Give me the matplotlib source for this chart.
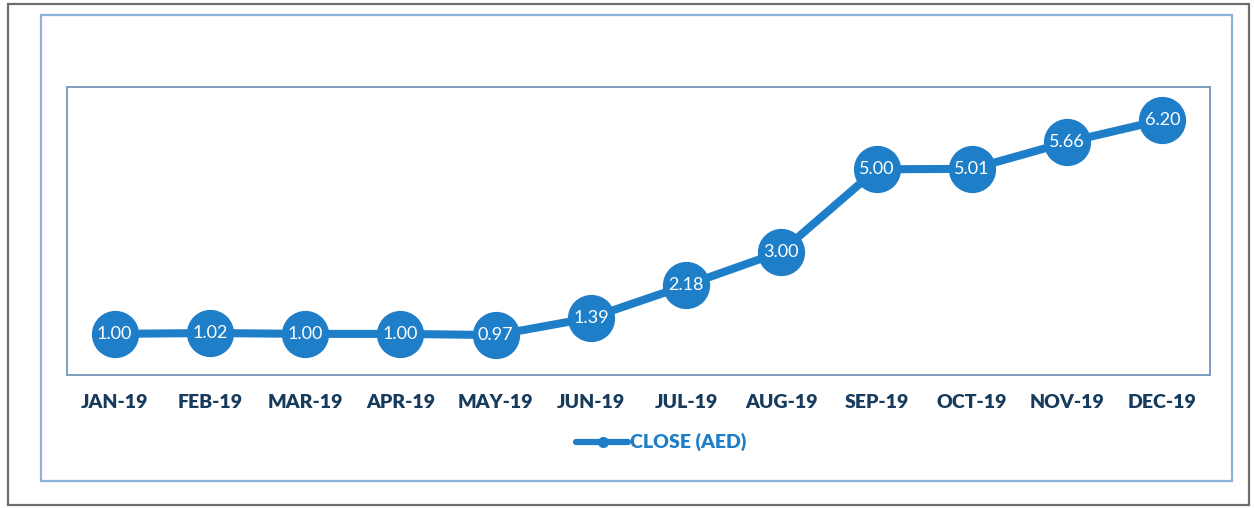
import matplotlib
matplotlib.use("Agg")
import matplotlib.pyplot as plt
from matplotlib.patches import Rectangle

months = ["JAN-19", "FEB-19", "MAR-19", "APR-19", "MAY-19", "JUN-19",
          "JUL-19", "AUG-19", "SEP-19", "OCT-19", "NOV-19", "DEC-19"]
close_aed = [1.00, 1.02, 1.00, 1.00, 0.97, 1.39, 2.18, 3.00, 5.00, 5.01, 5.66, 6.20]
series_name = "CLOSE (AED)"

W, H = 1254, 508
fig = plt.figure(figsize=(W / 100, H / 100), dpi=100)
fig.patch.set_facecolor("white")

def fr(x0, y0, x1, y1):
    return (x0 / W, 1 - y1 / H, (x1 - x0) / W, (y1 - y0) / H)

# decorative frames
x0, y0, w, h = fr(8, 4, 1249, 505)
fig.patches.append(Rectangle((x0, y0), w, h, transform=fig.transFigure,
                             fill=False, edgecolor="#6e6e6e", linewidth=1.6))
x0, y0, w, h = fr(41, 15, 1232, 481)
fig.patches.append(Rectangle((x0, y0), w, h, transform=fig.transFigure,
                             fill=False, edgecolor="#8db3dc", linewidth=1.6))

ax = fig.add_axes(fr(67, 87, 1210, 375))
color = "#1e7ec8"
xs = list(range(len(months)))
line, = ax.plot(xs, close_aed, color=color, linewidth=5.8, marker="o",
                markersize=33, markerfacecolor=color, markeredgecolor=color,
                solid_capstyle="round", label=series_name, zorder=3)
for x, v in zip(xs, close_aed):
    ax.text(x, v, f"{v:.2f}", ha="center", va="center", color="white",
            fontsize=13, family="Lato", zorder=4)

ax.set_xlim(-0.5, len(months) - 0.5)
ax.set_ylim(0, 7)
ax.set_yticks([])
ax.set_xticks(xs)
ax.set_xticklabels(months, fontsize=14, fontweight="heavy", family="Lato",
                   color="#173b5c")
ax.tick_params(axis="x", length=0, pad=14)
for s in ax.spines.values():
    s.set_color("#7d9cbf")
    s.set_linewidth(1.4)

# legend
lx = 603 / W
ly = 1 - 442 / H
fig.lines.append(plt.Line2D([576 / W, 628 / W], [ly, ly], transform=fig.transFigure,
                            color=color, linewidth=4.5, solid_capstyle="round"))
fig.lines.append(plt.Line2D([lx], [ly], transform=fig.transFigure, marker="o",
                            markersize=7, color=color))
fig.text(630 / W, ly, series_name, ha="left", va="center", color=color,
         fontsize=14, fontweight="heavy", family="Lato")

fig.savefig("out.png", dpi=100)
